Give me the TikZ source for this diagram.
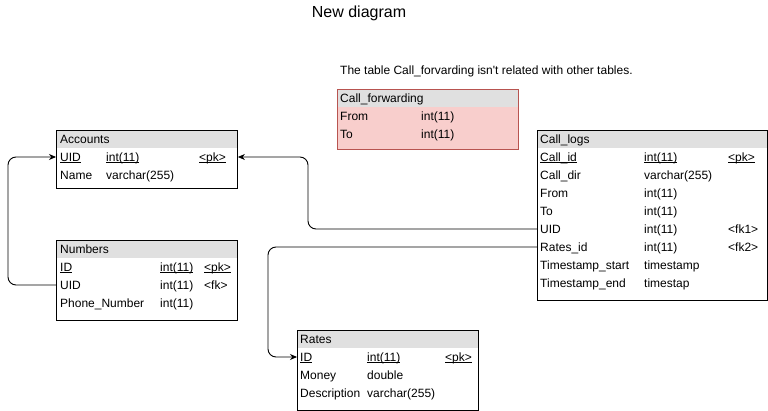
\documentclass[tikz,border=0pt]{standalone}
\usepackage{fontspec}
\setmainfont{Liberation Sans}[Ligatures=TeXOff]
\usetikzlibrary{arrows.meta}

\definecolor{hdrgray}{HTML}{E0E0E0}
\definecolor{fwdfill}{HTML}{F8CECC}
\definecolor{fwdline}{HTML}{B85450}

% underline at a fixed distance below the baseline
\newcommand{\keyline}[1]{\leavevmode\setbox0\hbox{#1}%
  \rlap{\rule[-1.8pt]{\wd0}{0.75pt}}\box0}

\tikzset{
  tablebox/.style={draw=black, line width=0.9pt, fill=white, rectangle,
    inner sep=0pt, anchor=north west, minimum width=181pt,
    path picture={\fill[hdrgray] (path picture bounding box.north west)
      rectangle ([yshift=-18pt]path picture bounding box.north east);}},
  fwdbox/.style={tablebox, draw=fwdline, fill=fwdfill},
  cell/.style={anchor=west, inner sep=0pt, text height=10pt, text depth=1.5pt,
    font=\fontsize{12}{14}\selectfont},
  fk/.style={draw=black, line width=0.9pt, rounded corners=8pt,
    -{Stealth[length=7pt,width=6pt]}},
}

\begin{document}
\begin{tikzpicture}[x=1pt, y=-1pt]
\useasboundingbox[fill=white] (0,0) rectangle (768,411);

% title and note
\node[font=\fontsize{16}{19}\selectfont, inner sep=0pt] (title) at (359,13) {New diagram};
\node[cell] (note) at (340,70) {The table Call\_forvarding isn't related with other tables.};

% Accounts
\node[tablebox, minimum height=58pt] (accounts) at (56,130) {};
\node[cell] (acch) at (60,139) {Accounts};
\node[cell] (accuid) at (60,157) {\keyline{UID}};
\node[cell] (accuidt) at (106,157) {\keyline{int(11)}};
\node[cell] (accuidk) at (199,157) {\keyline{<pk>}};
\node[cell] (accname) at (60,175) {Name};
\node[cell] (accnamet) at (106,175) {varchar(255)};

% Numbers
\node[tablebox, minimum height=80pt] (numbers) at (56,240) {};
\node[cell] (numh) at (60,249) {Numbers};
\node[cell] (numid) at (60,267) {\keyline{ID}};
\node[cell] (numidt) at (160,267) {\keyline{int(11)}};
\node[cell] (numidk) at (204,267) {\keyline{<pk>}};
\node[cell] (numuid) at (60,285) {UID};
\node[cell] (numuidt) at (160,285) {int(11)};
\node[cell] (numuidk) at (204,285) {<fk>};
\node[cell] (numphone) at (60,303) {Phone\_Number};
\node[cell] (numphonet) at (160,303) {int(11)};

% Call_forwarding
\node[fwdbox, minimum height=60pt] (callfwd) at (337,89) {};
\node[cell] (fwdh) at (340,98) {Call\_forwarding};
\node[cell] (fwdfrom) at (340,116) {From};
\node[cell] (fwdfromt) at (421,116) {int(11)};
\node[cell] (fwdto) at (340,134) {To};
\node[cell] (fwdtot) at (421,134) {int(11)};

% Call_logs
\node[tablebox, minimum width=230pt, minimum height=170pt] (calllogs) at (537,130) {};
\node[cell] (clh) at (540,139) {Call\_logs};
\node[cell] (clid) at (540,157) {\keyline{Call\_id}};
\node[cell] (clidt) at (644,157) {\keyline{int(11)}};
\node[cell] (clidk) at (728,157) {\keyline{<pk>}};
\node[cell] (cldir) at (540,175) {Call\_dir};
\node[cell] (cldirt) at (644,175) {varchar(255)};
\node[cell] (clfrom) at (540,193) {From};
\node[cell] (clfromt) at (644,193) {int(11)};
\node[cell] (clto) at (540,211) {To};
\node[cell] (cltot) at (644,211) {int(11)};
\node[cell] (cluid) at (540,229) {UID};
\node[cell] (cluidt) at (644,229) {int(11)};
\node[cell] (cluidk) at (728,229) {<fk1>};
\node[cell] (clrates) at (540,247) {Rates\_id};
\node[cell] (clratest) at (644,247) {int(11)};
\node[cell] (clratesk) at (728,247) {<fk2>};
\node[cell] (clstart) at (540,265) {Timestamp\_start};
\node[cell] (clstartt) at (644,265) {timestamp};
\node[cell] (clend) at (540,283) {Timestamp\_end};
\node[cell] (clendt) at (644,283) {timestap};

% Rates
\node[tablebox, minimum height=80pt] (rates) at (297,330) {};
\node[cell] (rth) at (300,339) {Rates};
\node[cell] (rtid) at (300,357) {\keyline{ID}};
\node[cell] (rtidt) at (367,357) {\keyline{int(11)}};
\node[cell] (rtidk) at (445,357) {\keyline{<pk>}};
\node[cell] (rtmoney) at (300,375) {Money};
\node[cell] (rtmoneyt) at (367,375) {double};
\node[cell] (rtdesc) at (300,393) {Description};
\node[cell] (rtdesct) at (367,393) {varchar(255)};

% foreign keys
\draw[fk] (numbers.west |- numuid) -- ++(-48,0) |- (accounts.west |- accuid);
\draw[fk] (calllogs.west |- cluid) -- ++(-229,0) |- (accounts.east |- accuid);
\draw[fk] (calllogs.west |- clrates) -- ++(-269,0) |- (rates.west |- rtid);
\end{tikzpicture}
\end{document}
